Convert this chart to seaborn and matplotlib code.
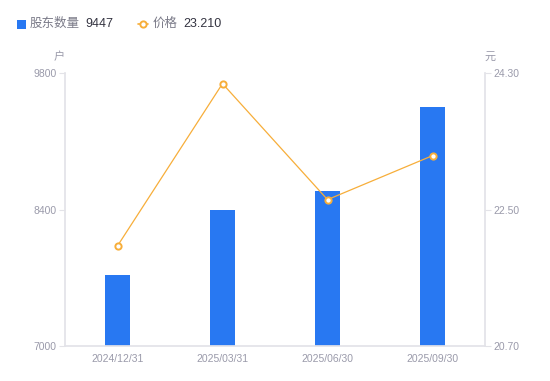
import matplotlib
matplotlib.use("Agg")
import matplotlib.pyplot as plt
import seaborn as sns
import pandas as pd
from matplotlib.lines import Line2D
from matplotlib.patches import Rectangle

dates = ["2024/12/31", "2025/03/31", "2025/06/30", "2025/09/30"]
holders = [7730, 8390, 8590, 9447]
prices = [22.02, 24.16, 22.63, 23.21]
left_ticks = [7000, 8400, 9800]
right_ticks = [20.70, 22.50, 24.30]

BLUE = "#2878F2"
ORANGE = "#F7AE3A"
TICK = "#9A9AAA"
SPINE = "#E3E3E8"

sns.set_theme(style="white")
plt.rcParams['font.family'] = ['Liberation Sans', 'Noto Sans CJK SC', 'DejaVu Sans']

df = pd.DataFrame({"date": dates, "holders": holders, "price": prices})

fig = plt.figure(figsize=(5.5, 3.81), dpi=100)
ax = fig.add_axes([65/550, 35/381, 420/550, 273/381])
sns.barplot(data=df, x="date", y="holders", color=BLUE, width=0.24,
            saturation=1, ax=ax, edgecolor=BLUE, linewidth=0)
ax.set_ylim(7000, 9800)
ax.set_xlim(-0.5, 3.5)
ax.set_yticks(left_ticks)
ax.set_yticklabels([str(t) for t in left_ticks])
ax.set_xlabel("")
ax.set_ylabel("")

ax2 = ax.twinx()
sns.lineplot(data=df, x="date", y="price", ax=ax2, color=ORANGE, linewidth=0.9,
             marker="o", markersize=4.5, markerfacecolor="white",
             markeredgecolor=ORANGE, markeredgewidth=1.4, sort=False)
ax2.set_ylim(20.70, 24.30)
ax2.set_yticks(right_ticks)
ax2.set_yticklabels([f"{t:.2f}" for t in right_ticks])
ax2.set_xlabel("")
ax2.set_ylabel("")

for a in (ax, ax2):
    for s in a.spines.values():
        s.set_visible(False)
    a.tick_params(axis="both", labelsize=7.5, labelcolor=TICK, colors=SPINE,
                  length=4, width=0.8, pad=2)
    a.grid(False)
ax.spines["left"].set_visible(True)
ax.spines["left"].set_color(SPINE)
ax.spines["bottom"].set_visible(True)
ax.spines["bottom"].set_color(SPINE)
ax2.spines["right"].set_visible(True)
ax2.spines["right"].set_color(SPINE)
ax.tick_params(axis="x", length=0, pad=6)
ax.tick_params(axis="y", left=True)
ax2.tick_params(axis="y", right=True)

fig.text(59/550, 1 - 57/381, "户", fontsize=8, color=TICK, ha="center", va="center")
fig.text(490/550, 1 - 57/381, "元", fontsize=8, color=TICK, ha="center", va="center")

# legend
fig.patches.append(Rectangle((17/550, 1 - 29/381), 9/550, 9/381, transform=fig.transFigure,
                             facecolor=BLUE, edgecolor="none"))
fig.text(30/550, 1 - 24/381, "股东数量", fontsize=9, color="#7A7A88", ha="left", va="center")
fig.text(85/550, 1 - 24/381, f"{holders[-1]}", fontsize=9, color="#333340", ha="left", va="center")
fig.lines.append(Line2D([138/550, 148/550], [1 - 24/381, 1 - 24/381], transform=fig.transFigure,
                        color=ORANGE, linewidth=1.2))
fig.lines.append(Line2D([143/550], [1 - 24/381], transform=fig.transFigure, color=ORANGE,
                        marker="o", markersize=4.5, markerfacecolor="white",
                        markeredgecolor=ORANGE, markeredgewidth=1.4, linestyle="none"))
fig.text(153/550, 1 - 24/381, "价格", fontsize=9, color="#7A7A88", ha="left", va="center")
fig.text(183/550, 1 - 24/381, f"{prices[-1]:.3f}", fontsize=9, color="#333340", ha="left", va="center")

fig.savefig("out.png", dpi=100)
